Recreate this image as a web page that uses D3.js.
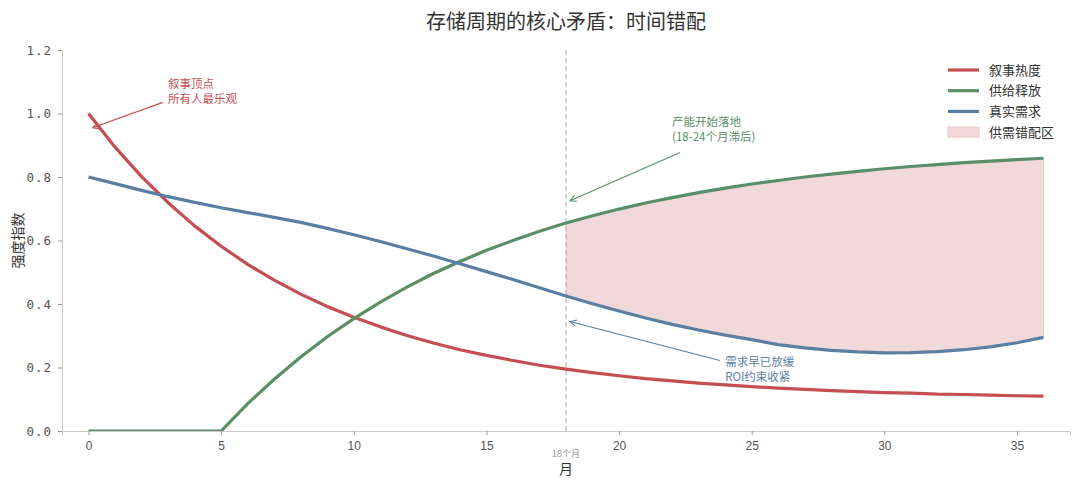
<!DOCTYPE html>
<html>
<head>
<meta charset="utf-8">
<script src="https://cdn.jsdelivr.net/npm/d3@7"></script>
<style>
  html, body { margin: 0; padding: 0; background: #fff; }
  svg { display: block; font-family: "Noto Sans CJK SC", "DejaVu Sans", sans-serif; }
</style>
</head>
<body>
<svg id="chart" width="1080" height="486"></svg>
<script>
/* ── Data ─────────────────────────────── */
const months = d3.range(0, 37);
const narrative = [1.000, 0.894, 0.801, 0.719, 0.646, 0.582, 0.525, 0.475, 0.431, 0.392,
                   0.358, 0.328, 0.301, 0.277, 0.256, 0.238, 0.222, 0.207, 0.195, 0.184,
                   0.174, 0.165, 0.158, 0.151, 0.145, 0.140, 0.135, 0.131, 0.127, 0.124,
                   0.121, 0.119, 0.116, 0.115, 0.113, 0.111, 0.110];
const supply    = [0, 0, 0, 0, 0, 0, 0.086, 0.163, 0.233, 0.297,
                   0.354, 0.406, 0.453, 0.496, 0.534, 0.569, 0.600, 0.629, 0.655, 0.678,
                   0.699, 0.718, 0.735, 0.751, 0.765, 0.778, 0.789, 0.800, 0.809, 0.818,
                   0.826, 0.833, 0.839, 0.845, 0.850, 0.855, 0.859];
const demand    = [0.800, 0.779, 0.758, 0.738, 0.720, 0.703, 0.688, 0.673, 0.657, 0.638,
                   0.618, 0.597, 0.574, 0.551, 0.527, 0.502, 0.477, 0.451, 0.425, 0.401,
                   0.378, 0.356, 0.336, 0.318, 0.302, 0.288, 0.272, 0.262, 0.254, 0.249,
                   0.246, 0.247, 0.250, 0.256, 0.265, 0.278, 0.295];
const seriesNames = ["叙事热度", "供给释放", "真实需求"];
const gapName = "供需错配区";
const gapStart = 18;
const xTicks = [0, 5, 10, 15, 20, 25, 30, 35];
const yTicks = [0.0, 0.2, 0.4, 0.6, 0.8, 1.0, 1.2];

const colors = { red: "#c44e52", green: "#5a8e69", blue: "#5a7fa3", fill: "#f2d9d9" };

/* ── Layout ───────────────────────────── */
const svg = d3.select("#chart");
const margin = { left: 62, right: 10, top: 50, bottom: 55 };
const W = 1080, H = 486;

const x = d3.scaleLinear().domain([-1, 37]).range([margin.left, W - margin.right]);
const y = d3.scaleLinear().domain([0, 1.2]).range([H - margin.bottom, margin.top]);

const defs = svg.append("defs");
defs.append("clipPath").attr("id", "plot-clip")
    .append("rect")
    .attr("x", margin.left).attr("y", margin.top)
    .attr("width", W - margin.left - margin.right)
    .attr("height", H - margin.top - margin.bottom);

/* ── Gap area ─────────────────────────── */
const gapMonths = months.filter(m => m >= gapStart);
const area = d3.area()
    .x(m => x(m))
    .y0(m => y(demand[m]))
    .y1(m => y(supply[m]));

svg.append("path")
    .datum(gapMonths)
    .attr("d", area)
    .attr("fill", colors.fill)
    .attr("stroke", "#ecc6c6")
    .attr("stroke-width", 1);

/* ── Axes ─────────────────────────────── */
const axisColor = "#cccccc";
const tickText = "#555";

const xAxis = svg.append("g")
    .attr("transform", `translate(0,${y(0)})`)
    .call(d3.axisBottom(x).tickValues(xTicks).tickSize(4).tickPadding(6).tickFormat(d3.format("d")));
xAxis.select(".domain").attr("stroke", axisColor);
xAxis.selectAll(".tick line").attr("stroke", "#999");
xAxis.selectAll(".tick text")
    .attr("fill", tickText)
    .attr("font-size", 12)
    .attr("font-family", "'Liberation Sans', Arial, sans-serif");

const yAxis = svg.append("g")
    .attr("transform", `translate(${margin.left},0)`)
    .call(d3.axisLeft(y).tickValues(yTicks).tickSize(4).tickPadding(6).tickFormat(d3.format(".1f")));
yAxis.select(".domain").attr("stroke", axisColor);
yAxis.selectAll(".tick line").attr("stroke", "#999");
yAxis.selectAll(".tick text")
    .attr("fill", tickText)
    .attr("font-size", 12.5)
    .attr("letter-spacing", 1)
    .attr("font-family", "'DejaVu Sans Mono', monospace");

/* ── 18-month marker ──────────────────── */
svg.append("line")
    .attr("x1", x(gapStart)).attr("x2", x(gapStart))
    .attr("y1", y(1.2)).attr("y2", y(0))
    .attr("stroke", "#bbb")
    .attr("stroke-width", 1.2)
    .attr("stroke-dasharray", "5,3");

svg.append("text")
    .attr("x", x(gapStart)).attr("y", y(0) + 26)
    .attr("text-anchor", "middle")
    .attr("font-size", 9)
    .attr("fill", "#999")
    .text("18个月");

/* ── Lines ────────────────────────────── */
const lineGen = vals => d3.line().x(m => x(m)).y(m => y(vals[m]))(months);
const seriesData = [narrative, supply, demand];
const seriesColors = [colors.red, colors.green, colors.blue];

svg.append("g")
    .attr("clip-path", "url(#plot-clip)")
    .selectAll("path")
    .data(seriesData)
    .join("path")
    .attr("d", d => lineGen(d))
    .attr("fill", "none")
    .attr("stroke", (d, i) => seriesColors[i])
    .attr("stroke-width", 3.2)
    .attr("stroke-linejoin", "round");

/* ── Annotations ──────────────────────── */
function arrowMarker(id, color) {
    defs.append("marker")
        .attr("id", id)
        .attr("viewBox", "0 0 10 10")
        .attr("refX", 9).attr("refY", 5)
        .attr("markerWidth", 8).attr("markerHeight", 8)
        .attr("markerUnits", "userSpaceOnUse")
        .attr("orient", "auto")
        .append("path")
        .attr("d", "M1,1 L9,5 L1,9")
        .attr("fill", "none")
        .attr("stroke", color)
        .attr("stroke-width", 1.3);
}

const notes = [
    { lines: ["叙事顶点", "所有人最乐观"], tx: 3.0, ty: 1.08, from: [2.8, 1.035], to: [0.15, 0.955], color: colors.red },
    { lines: ["产能开始落地", "(18-24个月滞后)"], tx: 22.0, ty: 0.96, from: [22.3, 0.877], to: [18.15, 0.725], color: colors.green },
    { lines: ["需求早已放缓", "ROI约束收紧"], tx: 24.0, ty: 0.205, from: [23.8, 0.222], to: [18.15, 0.345], color: colors.blue }
];

notes.forEach((n, i) => {
    arrowMarker(`arrow-${i}`, n.color);
    svg.append("line")
        .attr("x1", x(n.from[0])).attr("y1", y(n.from[1]))
        .attr("x2", x(n.to[0])).attr("y2", y(n.to[1]))
        .attr("stroke", n.color)
        .attr("stroke-width", 1.2)
        .attr("marker-end", `url(#arrow-${i})`);
    n.lines.forEach((s, k) => {
        svg.append("text")
            .attr("x", x(n.tx)).attr("y", y(n.ty) + k * 15)
            .attr("font-size", 11.5)
            .attr("fill", n.color)
            .text(s);
    });
});

/* ── Titles ───────────────────────────── */
svg.append("text")
    .attr("x", (margin.left + W - margin.right) / 2).attr("y", 29)
    .attr("text-anchor", "middle")
    .attr("font-size", 20)
    .attr("fill", "#333")
    .text("存储周期的核心矛盾：时间错配");

svg.append("text")
    .attr("x", x(gapStart)).attr("y", y(0) + 43)
    .attr("text-anchor", "middle")
    .attr("font-size", 14)
    .attr("fill", "#333")
    .text("月");

svg.append("text")
    .attr("transform", `translate(23,${y(0.6)}) rotate(-90)`)
    .attr("text-anchor", "middle")
    .attr("font-size", 14)
    .attr("fill", "#333")
    .text("强度指数");

/* ── Legend ───────────────────────────── */
const legend = svg.append("g").attr("transform", "translate(948,70)");
const legendItems = seriesNames.map((name, i) => ({ name, color: seriesColors[i], kind: "line" }))
    .concat([{ name: gapName, color: colors.fill, kind: "patch" }]);

legendItems.forEach((d, i) => {
    const g = legend.append("g").attr("transform", `translate(0,${i * 20.7})`);
    if (d.kind === "line") {
        g.append("line").attr("x1", 0).attr("x2", 31).attr("y1", 0).attr("y2", 0)
            .attr("stroke", d.color).attr("stroke-width", 3.2);
    } else {
        g.append("rect").attr("x", 0).attr("y", -5).attr("width", 31).attr("height", 10)
            .attr("fill", d.color).attr("stroke", "#ecc6c6");
    }
    g.append("text").attr("x", 41).attr("y", 0).attr("dy", "0.35em")
        .attr("font-size", 13).attr("fill", "#333").text(d.name);
});
</script>
</body>
</html>
